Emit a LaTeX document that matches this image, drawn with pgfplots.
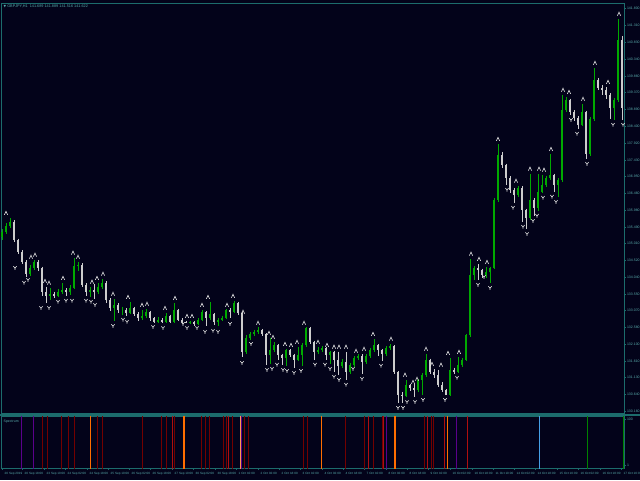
\documentclass[border=0pt]{standalone}
\usepackage{pgfplots}
\pgfplotsset{compat=1.18}
\usepackage{pgfplotstable}
\usepackage{fontspec}
\setmainfont{Liberation Sans}
\newfontfamily\dejavu{DejaVu Sans}

\definecolor{bg}{RGB}{3,3,26}
\definecolor{frame}{RGB}{28,108,108}
\definecolor{lbl}{RGB}{88,172,172}
\definecolor{bull}{RGB}{0,170,0}
\definecolor{bear}{RGB}{205,205,205}
\definecolor{fract}{RGB}{225,225,225}
\definecolor{sdred}{RGB}{115,0,0}
\definecolor{sred}{RGB}{175,15,15}
\definecolor{sorange}{RGB}{255,110,0}
\definecolor{spink}{RGB}{255,150,80}
\definecolor{spurple}{RGB}{90,0,140}
\definecolor{sblue}{RGB}{70,160,230}
\definecolor{sgreen}{RGB}{0,130,0}

% fractal arrows
\pgfdeclareplotmark{fup}{%
  \pgfpathmoveto{\pgfpoint{-1.6pt}{-1.8pt}}%
  \pgfpathlineto{\pgfpoint{0pt}{1.8pt}}%
  \pgfpathlineto{\pgfpoint{1.6pt}{-1.8pt}}%
  \pgfusepathqstroke}
\pgfdeclareplotmark{fdn}{%
  \pgfpathmoveto{\pgfpoint{-1.6pt}{1.8pt}}%
  \pgfpathlineto{\pgfpoint{0pt}{-0.2pt}}%
  \pgfpathlineto{\pgfpoint{1.6pt}{1.8pt}}%
  \pgfpathmoveto{\pgfpoint{0pt}{-0.2pt}}%
  \pgfpathlineto{\pgfpoint{0pt}{-1.8pt}}%
  \pgfusepathqstroke}

\pgfplotsset{
  mt/.style={scale only axis, xmin=1, xmax=624,
    axis line style={draw=frame, line width=0.8pt},
    tick style={draw=frame, line width=0.5pt}, tick align=outside,
    major tick length=2pt,
    ticklabel style={font=\fontsize{3.5}{4}\selectfont, text=lbl},
    /pgf/number format/assume math mode=true},
  wick/.style={draw=none, mark=none, error bars/y dir=minus,
    error bars/y explicit, error bars/error mark=none,
    error bars/error bar style={draw=#1, line width=0.7pt, solid}},
  body/.style={draw=none, mark=none, error bars/y dir=minus,
    error bars/y explicit, error bars/error mark=none,
    error bars/error bar style={draw=#1, line width=1.5pt, solid}},
  spec/.style 2 args={draw=none, mark=none, error bars/y dir=both,
    error bars/y fixed=60, error bars/error mark=none,
    error bars/error bar style={draw=#1, line width=#2, solid}},
}

% GBPJPY H1 candles: x = position on the chart, open high low close
\pgfplotstableread{
x o h l c
2 135.20 135.42 135.12 135.34
6 135.34 135.60 135.28 135.52
10 135.52 135.74 135.46 135.63
14 135.63 135.68 135.04 135.11
18 135.11 135.15 134.70 134.76
22 134.76 134.82 134.42 134.47
26 134.47 134.52 134.04 134.13
30 134.13 134.38 134.08 134.30
34 134.30 134.53 134.25 134.47
38 134.47 134.52 134.22 134.30
42 134.30 134.34 133.50 133.61
46 133.61 133.76 133.30 133.49
50 133.49 133.72 133.38 133.55
54 133.55 133.62 133.42 133.49
58 133.49 133.70 133.45 133.61
62 133.61 133.86 133.56 133.66
66 133.66 133.72 133.50 133.61
70 133.61 133.80 133.52 133.72
74 133.72 134.58 133.68 134.35
78 134.35 134.47 134.20 134.40
82 134.40 134.44 133.75 133.81
86 133.81 133.86 133.50 133.61
90 133.61 133.74 133.47 133.66
94 133.66 133.85 133.40 133.61
98 133.61 133.86 133.55 133.75
102 133.75 133.98 133.70 133.87
106 133.87 133.92 133.30 133.38
110 133.38 133.42 133.05 133.14
114 133.14 133.40 132.78 133.23
118 133.23 133.28 133.00 133.09
122 133.09 133.18 132.95 133.09
126 133.09 133.14 132.90 133.00
130 133.00 133.31 132.96 133.14
134 133.14 133.18 132.90 132.97
138 132.97 133.02 132.78 132.85
142 132.85 133.08 132.80 132.91
146 132.91 133.11 132.86 133.03
150 133.03 133.06 132.78 132.85
154 132.85 132.88 132.72 132.74
158 132.74 132.88 132.70 132.80
162 132.80 132.84 132.71 132.74
166 132.74 132.99 132.72 132.91
170 132.91 132.95 132.70 132.74
174 132.74 133.28 132.72 133.09
178 133.09 133.12 132.76 132.80
182 132.80 132.84 132.70 132.74
186 132.74 132.78 132.70 132.72
190 132.72 132.78 132.68 132.74
194 132.74 132.76 132.62 132.68
198 132.68 132.86 132.66 132.80
202 132.80 133.08 132.76 133.03
206 133.03 133.06 132.62 132.85
210 132.85 133.31 132.80 132.97
214 132.97 133.00 132.64 132.74
218 132.74 132.86 132.62 132.80
222 132.80 132.92 132.76 132.85
226 132.85 133.12 132.82 133.09
230 133.09 133.14 132.85 133.03
234 133.03 133.34 133.00 133.29
238 133.29 133.32 132.95 133.00
242 133.00 133.02 131.72 131.87
246 131.87 132.35 131.82 132.28
250 132.28 132.44 132.22 132.39
254 132.39 132.52 132.34 132.45
258 132.45 132.58 132.40 132.51
262 132.51 132.54 132.32 132.39
266 132.39 132.42 131.50 131.78
270 131.78 132.27 131.52 131.93
274 131.93 132.15 131.88 132.07
278 132.07 132.10 131.65 131.78
282 131.78 131.82 131.50 131.70
286 131.70 131.96 131.47 131.93
290 131.93 131.95 131.72 131.78
294 131.78 131.82 131.41 131.64
298 131.64 132.01 131.60 131.78
302 131.78 132.12 131.47 132.07
306 132.07 132.60 132.02 132.57
310 132.57 132.60 132.10 132.16
314 132.16 132.20 131.65 131.87
318 131.87 132.01 131.82 131.93
322 131.93 132.04 131.88 131.99
326 131.99 132.02 131.65 131.78
330 131.78 131.90 131.53 131.87
334 131.87 131.90 131.30 131.64
338 131.64 131.88 131.21 131.47
342 131.47 131.66 131.40 131.58
346 131.58 131.87 131.07 131.29
350 131.29 131.56 131.24 131.50
354 131.50 131.75 131.45 131.70
358 131.70 131.80 131.64 131.76
362 131.76 131.81 131.24 131.58
366 131.58 131.81 131.52 131.76
370 131.76 131.98 131.70 131.93
374 131.93 132.24 131.88 132.07
378 132.07 132.10 131.75 131.93
382 131.93 131.96 131.62 131.81
386 131.81 132.04 131.76 131.99
390 131.99 132.10 131.94 132.04
394 132.04 132.06 131.22 131.29
398 131.29 131.32 130.40 130.63
402 130.63 130.72 130.40 130.60
406 130.60 131.06 130.57 130.92
410 130.92 130.95 130.74 130.83
414 130.83 130.94 130.57 130.77
418 130.77 131.10 130.72 131.06
422 131.06 131.26 130.64 131.21
426 131.21 131.81 131.16 131.64
430 131.64 131.68 131.22 131.29
434 131.29 131.37 131.12 131.21
438 131.21 131.35 130.86 130.92
442 130.92 131.00 130.70 130.77
446 130.77 130.80 130.62 130.63
450 130.63 131.69 130.60 131.35
454 131.35 131.42 131.22 131.29
458 131.29 131.72 131.27 131.50
462 131.50 131.70 131.44 131.64
466 131.64 132.40 131.60 132.36
470 132.36 134.56 132.30 134.10
474 134.10 134.36 133.96 134.30
478 134.30 134.41 133.96 134.24
482 134.24 134.28 134.02 134.10
486 134.10 134.32 134.02 134.19
490 134.19 134.34 133.87 134.30
494 134.30 136.32 134.26 136.27
498 136.27 137.88 136.20 137.57
502 137.57 137.66 137.20 137.28
506 137.28 137.32 136.71 136.90
510 136.90 136.95 136.48 136.56
514 136.56 136.62 136.19 136.41
518 136.41 136.67 136.36 136.62
522 136.62 136.66 135.64 135.98
526 135.98 136.02 135.43 135.75
530 135.75 137.02 135.70 136.27
534 136.27 136.32 135.81 136.04
538 136.04 137.02 135.96 136.50
542 136.50 136.99 136.48 136.70
546 136.70 136.96 136.64 136.90
550 136.90 137.59 136.86 136.99
554 136.99 137.03 136.51 136.70
558 136.70 136.90 136.36 136.85
562 136.85 139.30 136.80 138.87
566 138.87 139.24 138.80 139.16
570 139.16 139.20 138.73 138.81
574 138.81 138.86 138.55 138.64
578 138.64 138.70 138.33 138.44
582 138.44 139.04 138.40 138.81
586 138.81 138.85 137.46 137.60
590 137.60 138.66 137.55 138.60
594 138.60 140.08 138.55 139.74
598 139.74 139.80 139.44 139.51
602 139.51 139.58 139.30 139.45
606 139.45 139.53 139.20 139.31
610 139.31 139.36 138.62 138.93
614 138.93 139.22 138.59 139.16
618 139.16 141.50 139.10 140.90
622 140.90 141.00 138.59 138.93
}\candles

\begin{document}
\begin{tikzpicture}
\fill[bg] (0pt,0pt) rectangle (640pt,480pt);

% price window
\begin{axis}[mt, at={(1pt,67pt)}, anchor=south west, width=623pt, height=410pt,
  ymin=130.106, ymax=141.966, xtick=\empty,
  ytick pos=right, yticklabel pos=right,
  ytick={130.16,130.64,131.13,131.61,132.10,132.58,133.07,133.55,134.04,134.52,
    135.01,135.49,135.98,136.46,136.95,137.43,137.92,138.40,138.89,139.37,
    139.86,140.34,140.83,141.31,141.80},
  yticklabel style={anchor=west, xshift=-2.5pt,
    /pgf/number format/fixed, /pgf/number format/fixed zerofill,
    /pgf/number format/precision=3, /pgf/number format/1000 sep={}}]
\addplot[restrict expr to domain={\thisrow{c}-\thisrow{o}}{0:100}, wick=bull]
  table[x=x, y=h, y error minus expr={\thisrow{h}-\thisrow{l}}] {\candles};
\addplot[restrict expr to domain={\thisrow{c}-\thisrow{o}}{-100:-0.0001}, wick=bear]
  table[x=x, y=h, y error minus expr={\thisrow{h}-\thisrow{l}}] {\candles};
\addplot[restrict expr to domain={\thisrow{c}-\thisrow{o}}{0:100}, body=bull]
  table[x=x, y=c, y error minus expr={\thisrow{c}-\thisrow{o}}] {\candles};
\addplot[restrict expr to domain={\thisrow{c}-\thisrow{o}}{-100:-0.0001}, body=bear]
  table[x=x, y=o, y error minus expr={\thisrow{o}-\thisrow{c}}] {\candles};
% up fractals
\addplot[only marks, mark=fup, mark options={draw=fract, line width=0.6pt}] coordinates {
(6,135.89) (31,134.62) (35,134.68) (45,133.92) (49,133.87) (63,134.01) (73,134.74)
(78,134.62) (92,133.90) (97,134.01) (103,134.13) (113,133.55) (128,133.46) (142,133.23)
(147,133.26) (165,133.14) (175,133.43) (187,132.91) (192,132.91) (202,133.23) (208,133.46)
(227,133.23) (233,133.49) (243,133.03) (258,132.71) (269,132.42) (273,132.30) (285,132.10)
(291,132.07) (297,132.16) (304,132.71) (318,132.16) (327,132.07) (334,132.02) (339,132.02)
(346,132.02) (356,131.90) (364,131.96) (373,132.39) (391,132.25) (405,131.21) (413,131.00)
(417,131.09) (426,131.96) (432,131.52) (441,131.50) (448,131.84) (459,131.87) (471,134.71)
(479,134.56) (487,134.47) (498,138.03) (516,136.82) (530,137.17) (539,137.17) (544,137.14)
(551,137.74) (563,139.45) (569,139.39) (583,139.19) (595,140.23) (608,139.68) (619,141.65)};
% down fractals
\addplot[only marks, mark=fdn, mark options={draw=fract, line width=0.6pt}] coordinates {
(15,134.30) (24,133.87) (28,133.95) (41,133.14) (49,133.14) (58,133.32) (66,133.35)
(72,133.35) (86,133.35) (91,133.32) (95,133.23) (113,132.62) (123,132.80) (127,132.74)
(153,132.59) (163,132.56) (183,132.68) (187,132.56) (197,132.56) (205,132.45) (213,132.48)
(218,132.45) (230,132.68) (242,131.55) (251,132.10) (267,131.35) (272,131.38) (277,131.50)
(283,131.35) (287,131.32) (294,131.26) (301,131.32) (315,131.50) (325,131.50) (330,131.38)
(334,131.15) (339,131.06) (346,130.92) (353,131.38) (362,131.09) (381,131.47) (398,130.25)
(403,130.25) (407,130.42) (415,130.42) (423,130.48) (445,130.48) (457,131.12) (478,133.81)
(484,134.04) (490,133.72) (507,136.56) (513,136.04) (523,135.49) (527,135.28) (533,135.66)
(537,135.81) (543,136.33) (552,136.36) (556,136.21) (571,138.58) (577,138.18) (587,137.31)
(613,138.44) (623,138.44)};
\node[anchor=north west, inner sep=0pt, text=lbl, font=\fontsize{3.8}{4}\selectfont]
  at (rel axis cs:0.004,0.996) {{\dejavu\fontsize{3.3}{4}\selectfont ▼}\ GBPJPY,H1\ \ 141.689 141.889 141.516 141.622};
\end{axis}

% Spectrum window
\begin{axis}[mt, at={(1pt,12pt)}, anchor=south west, width=623pt, height=52pt,
  ymin=-4, ymax=106, ytick={1,100}, ytick pos=right, yticklabel pos=right,
  yticklabel style={anchor=west, xshift=-2.5pt},
  xtick pos=bottom,
  xtick={2,22,44,65,87,108,129,150,172,193,215,236,258,279,300,322,343,364,386,407,
    428,450,472,493,514,535,557,578,600,621},
  xticklabels={20 Sep 2019, 20 Sep 18:00, 23 Sep 10:00, 24 Sep 02:00, 24 Sep 18:00,
    25 Sep 10:00, 26 Sep 02:00, 26 Sep 18:00, 27 Sep 10:00, 30 Sep 02:00, 30 Sep 18:00,
    1 Oct 10:00, 2 Oct 02:00, 2 Oct 18:00, 3 Oct 10:00, 4 Oct 02:00, 4 Oct 18:00,
    7 Oct 10:00, 8 Oct 02:00, 8 Oct 18:00, 9 Oct 10:00, 10 Oct 02:00, 10 Oct 18:00,
    11 Oct 10:00, 14 Oct 02:00, 14 Oct 18:00, 15 Oct 10:00, 16 Oct 02:00, 16 Oct 18:00,
    17 Oct 10:00},
  xticklabel style={anchor=north west, xshift=-0.8pt, yshift=1pt,
    font=\fontsize{3.1}{4}\selectfont}]
\addplot[spec={sdred}{0.9pt}] coordinates {
(42,50) (47,50) (61,50) (68,50) (74,50) (97,50) (102,50) (142,50) (161,50) (166,50)
(174,50) (201,50) (205,50) (209,50) (223,50) (226,50) (232,50) (244,50) (248,50)
(303,50) (307,50) (345,50) (364,50) (373,50) (382,50) (424,50) (431,50) (433,50)};
\addplot[spec={sred}{0.9pt}] coordinates {
(172,50) (228,50) (368,50) (383,50) (427,50) (444,50) (467,50)};
\addplot[spec={sorange}{1pt}] coordinates {(90,50) (321,50) (447,50)};
\addplot[spec={sorange}{2pt}] coordinates {(184,50) (395,50)};
\addplot[spec={spink}{1pt}] coordinates {(240,50)};
\addplot[spec={spurple}{0.9pt}] coordinates {(21,50) (33,50) (241.5,50) (386,50) (456,50)};
\addplot[spec={sblue}{1pt}] coordinates {(539,50)};
\addplot[spec={sgreen}{1pt}] coordinates {(587,50) (623,50)};
\node[anchor=north west, inner sep=0pt, text=lbl, font=\fontsize{3.5}{4}\selectfont]
  at (rel axis cs:0.004,0.93) {Spectrum};
\end{axis}

\draw[frame, line width=2pt] (0pt,65.5pt) -- (640pt,65.5pt);
\pgfresetboundingbox
\useasboundingbox (0pt,0pt) rectangle (640pt,480pt);
\end{tikzpicture}
\end{document}
